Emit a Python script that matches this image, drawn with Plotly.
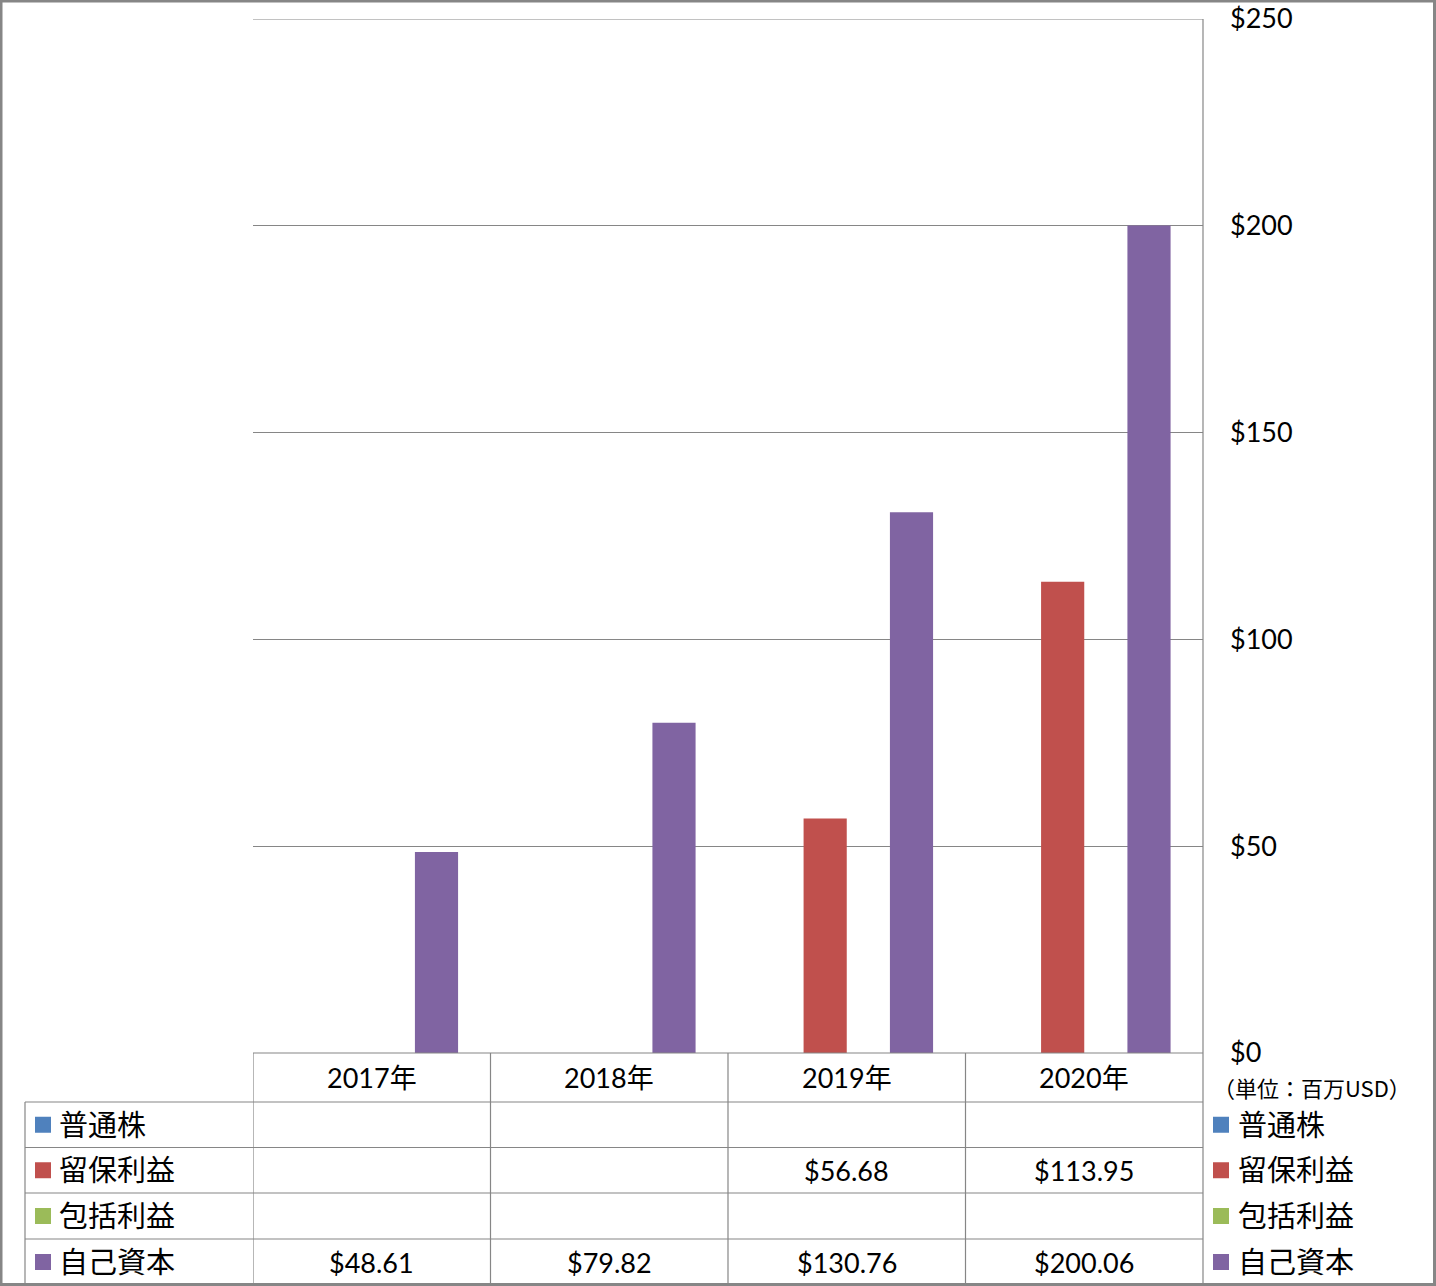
import plotly.graph_objects as go

W, H = 1436, 1286

years = ["2017年", "2018年", "2019年", "2020年"]
series_names = ["普通株", "留保利益", "包括利益", "自己資本"]
common_stock = [None, None, None, None]
retained_earnings = [None, None, 56.68, 113.95]
comprehensive_income = [None, None, None, None]
equity = [48.61, 79.82, 130.76, 200.06]
y_ticks = [0, 50, 100, 150, 200, 250]
unit_label = "（単位：百万USD）"

COLORS = ["#4F81BD", "#C0504D", "#9BBB59", "#8064A2"]
GRID = "#868686"
NUM_FONT = "Lato, 'Noto Sans CJK JP', sans-serif"
JP_FONT = "'Noto Sans CJK JP', sans-serif"


def px(x):
    return x / W


def py(y):
    return 1 - y / H


all_series = [common_stock, retained_earnings, comprehensive_income, equity]

fig = go.Figure()
for name, vals, color in zip(series_names, all_series, COLORS):
    fig.add_trace(go.Bar(x=years, y=vals, name=name, marker=dict(color=color, line=dict(width=0))))

# plot area / table geometry (pixels)
PLOT_L, PLOT_R, PLOT_T, PLOT_B = 253, 1203, 19, 1053
LEG_L = 25
ROW_LINES = [1102, 1147.5, 1193, 1239, 1285]
row_centers = [(a + b) / 2 for a, b in zip(ROW_LINES[:-1], ROW_LINES[1:])]
header_center = (PLOT_B + ROW_LINES[0]) / 2

shapes = []
line = dict(color=GRID, width=1.2)
# top gridline (plotly skips the one on the range edge)
shapes.append(dict(type="line", xref="paper", yref="y", x0=px(PLOT_L), x1=px(PLOT_R),
                   y0=y_ticks[-1], y1=y_ticks[-1], line=dict(color=GRID, width=1)))
# horizontal table lines
shapes.append(dict(type="line", xref="paper", yref="paper", x0=px(PLOT_L), x1=px(PLOT_R),
                   y0=py(PLOT_B), y1=py(PLOT_B), line=line))
for yl in ROW_LINES[:-1]:
    shapes.append(dict(type="line", xref="paper", yref="paper", x0=px(LEG_L), x1=px(PLOT_R),
                       y0=py(yl), y1=py(yl), line=line))
# vertical table lines
shapes.append(dict(type="line", xref="paper", yref="paper", x0=px(LEG_L), x1=px(LEG_L),
                   y0=py(ROW_LINES[0]), y1=py(H), line=line))
for i in range(len(years)):
    shapes.append(dict(type="line", xref="x", yref="paper", x0=i - 0.5, x1=i - 0.5,
                       y0=py(PLOT_B), y1=py(H), line=line))
shapes.append(dict(type="line", xref="paper", yref="paper", x0=px(PLOT_R), x1=px(PLOT_R),
                   y0=py(PLOT_T), y1=py(H), line=line))

annotations = []
# header row (categories)
for yr in years:
    annotations.append(dict(x=yr, xref="x", y=py(header_center), yref="paper", text=yr,
                            xanchor="center", yanchor="middle", showarrow=False,
                            font=dict(family=NUM_FONT, size=27, color="black")))
# legend cells (left and right) + values
for i, (name, vals, color) in enumerate(zip(series_names, all_series, COLORS)):
    yc = row_centers[i]
    for sx, tx in [(35, 57), (1213, 1236)]:
        shapes.append(dict(type="rect", xref="paper", yref="paper", x0=px(sx), x1=px(sx + 16),
                           y0=py(yc + 8), y1=py(yc - 8), fillcolor=color, line=dict(width=0)))
        annotations.append(dict(x=px(tx), xref="paper", y=py(yc - 2), yref="paper", text=name,
                                xanchor="left", yanchor="middle", showarrow=False,
                                font=dict(family=JP_FONT, size=29, color="black")))
    for yr, v in zip(years, vals):
        if v is not None:
            annotations.append(dict(x=yr, xref="x", y=py(yc), yref="paper", text=f"${v:.2f}",
                                    xanchor="center", yanchor="middle", showarrow=False,
                                    font=dict(family=NUM_FONT, size=27, color="black")))

annotations.append(dict(x=px(1211), xref="paper", y=py(1087), yref="paper", text=unit_label,
                        xanchor="left", yanchor="middle", showarrow=False,
                        font=dict(family=JP_FONT, size=22, color="black")))

# outer border
shapes.append(dict(type="rect", xref="paper", yref="paper", x0=px(1), x1=px(W - 1.5),
                   y0=py(H - 1.5), y1=py(1), line=dict(color=GRID, width=3)))

fig.update_layout(
    width=W, height=H,
    margin=dict(l=0, r=0, t=0, b=0, autoexpand=False),
    paper_bgcolor="white", plot_bgcolor="white",
    barmode="group", bargap=0.273, bargroupgap=0,
    showlegend=False,
    shapes=shapes, annotations=annotations,
    xaxis=dict(domain=[px(PLOT_L), px(PLOT_R)], showticklabels=False, showgrid=False,
               zeroline=False, showline=False, ticks="", range=[-0.5, 3.5], automargin=False),
    yaxis=dict(domain=[py(PLOT_B), py(PLOT_T)], range=[0, 250], side="right", automargin=False,
               tickvals=y_ticks, ticktext=[f"${t}" for t in y_ticks],
               showgrid=True, gridcolor=GRID, gridwidth=1,
               zeroline=False, showline=False, ticks="", ticklabelstandoff=26,
               tickfont=dict(family=NUM_FONT, size=27, color="black")),
)

fig.write_html("out.html", config={"displayModeBar": False},
               post_script="document.body.style.margin='0';document.body.style.overflow='hidden';")
